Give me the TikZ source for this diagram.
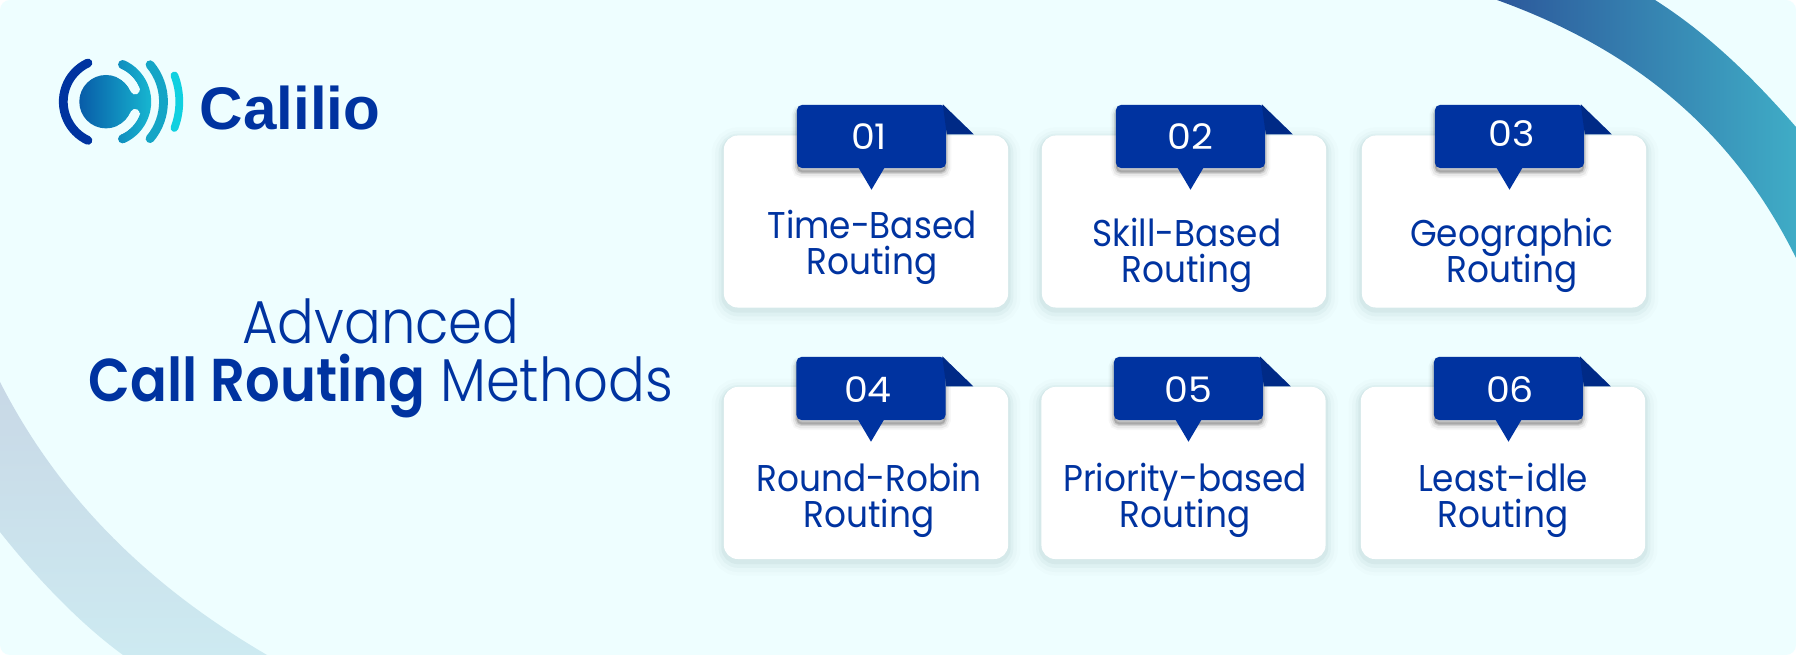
\documentclass[tikz,border=0pt]{standalone}
\usepackage{fontspec}
\setmainfont{Poppins}[UprightFont=* Light,BoldFont=* SemiBold,FakeStretch=0.9]
\newfontfamily\plainfont{Poppins}[FakeStretch=0.92]
\newfontfamily\numfont{Poppins}[FakeStretch=1.08]
\newfontfamily\brandfont{Liberation Sans}[BoldFont=* Bold]
\definecolor{pagebg}{HTML}{EEFEFF}
\definecolor{tagblue}{HTML}{0033A0}
\definecolor{tagdark}{HTML}{002A86}
\definecolor{softgrey}{HTML}{2F5F68}
\definecolor{ribbonleft}{RGB}{44,88,155}
\definecolor{ribbonright}{RGB}{63,172,198}
\definecolor{paleupper}{RGB}{200,216,230}
\definecolor{palelower}{RGB}{205,234,241}
\definecolor{logoleft}{RGB}{8,92,168}
\definecolor{logoright}{RGB}{24,190,212}
\definecolor{logothird}{RGB}{20,165,198}
\definecolor{logofourth}{RGB}{16,208,224}
\tikzset{
  cardbox/.style={fill=white,rounded corners=.14cm,minimum width=2.84cm,minimum height=1.72cm,inner sep=0pt,
    preaction={draw=softgrey,line width=7pt,opacity=.015,transform canvas={yshift=-1.2pt}},
    preaction={draw=softgrey,line width=5pt,opacity=.025,transform canvas={yshift=-1.2pt}},
    preaction={draw=softgrey,line width=3pt,opacity=.04,transform canvas={yshift=-1pt}},
    preaction={draw=softgrey,line width=1.5pt,opacity=.05,transform canvas={yshift=-.7pt}}},
  tagbox/.style={fill=tagblue,rounded corners=.05cm,minimum width=1.49cm,minimum height=.63cm,inner sep=0pt,
    preaction={draw=black,fill=black,line width=3pt,opacity=.03,transform canvas={yshift=-1.4pt}},
    preaction={draw=black,fill=black,line width=2pt,opacity=.06,transform canvas={yshift=-1.4pt}},
    preaction={draw=black,fill=black,line width=1pt,opacity=.10,transform canvas={yshift=-1.2pt}}},
  numtext/.style={text=white,font=\numfont\fontsize{10}{11}\selectfont},
  cardtext/.style={text=tagblue,align=center,font=\plainfont\fontsize{10.6}{10.2}\selectfont\lineskiplimit -6pt\relax},
  titletext/.style={text=tagblue,align=center,font=\fontsize{17.2}{16.5}\selectfont\lineskiplimit -6pt\relax},
  brandtext/.style={text=tagblue,font=\brandfont\bfseries\fontsize{17.1}{18}\selectfont},
}
\begin{document}
\begin{tikzpicture}[x=.01cm,y=.01cm]
\useasboundingbox (0,0) rectangle (1796,655);
\fill[white] (0,0) rectangle (1796,655);
\fill[pagebg,rounded corners=.1cm] (0,0) rectangle (1796,655);
% corner ribbons
\shade[left color=ribbonleft,right color=ribbonright]
  (1497,655) -- (1655,655) .. controls (1710,620) and (1755,575) .. (1796,528) -- (1796,397)
  .. controls (1740,510) and (1650,600) .. (1497,655) -- cycle;
\shade[top color=paleupper,bottom color=palelower]
  (0,273) .. controls (50,175) and (130,80) .. (267,0) -- (123,0)
  .. controls (75,35) and (30,85) .. (0,123) -- cycle;
% logo
\draw[tagblue,line width=2.5pt,line cap=round] (106,553.3) ++(115:42.7) arc (115:245:42.7);
\shade[left color=logoleft,right color=logoright]
  (106,553.3) circle (26.7)
  (106,553.3) ++(-66:40.7) circle (4.5)
  (106,553.3) ++(66:40.7) circle (4.5)
  (106,553.3) ++(-66:45.2) arc (-66:66:45.2) -- ++(246:9) arc (66:-66:36.2) -- cycle
  (126,542) -- (146,542) -- (146,564.6) -- (126,564.6) -- cycle;
\draw[pagebg,line width=2.6pt,line cap=round] (106,553.3) ++(22:31.4) arc (22:64:31.4);
\draw[pagebg,line width=2.6pt,line cap=round] (106,553.3) ++(-22:31.4) arc (-22:-64:31.4);
\draw[logothird,line width=2.5pt,line cap=round] (106,553.3) ++(-40:57.5) arc (-40:40:57.5);
\draw[logofourth,line width=2.2pt,line cap=round] (106,553.3) ++(-21:73.3) arc (-21:21:73.3);
\node[brandtext] (brand) at (290,547) {Calilio};
% title
\node[titletext] (title) at (381,297) {Advanced\\\textbf{Call Routing} Methods};
% cards
\foreach \i/\cx/\cy/\tx/\ty/\nx/\ny/\lx/\ly/\txt in {
  01/866/433.5/871.5/518.5/869/518/872/408/{Time-Based\\Routing},
  02/1184/433.5/1190.5/518.5/1190/518/1187/400/{Skill-Based\\Routing},
  03/1504/433.5/1509.5/518.5/1512/521/1512/400/{Geographic\\Routing},
  04/866/182/871/266.5/868/265/869/155/{Round-Robin\\Routing},
  05/1183.5/182/1188.5/266.5/1188/265/1185/155/{Priority-based\\Routing},
  06/1503/182/1508.5/266.5/1510/265/1503/155/{Least-idle\\Routing}}{
  \node[cardbox] (card\i) at (\cx,\cy) {};
  \node[cardtext] (lab\i) at (\lx,\ly) {\txt};
  \node[tagbox] (tag\i) at (\tx,\ty) {};
  \fill[tagdark] (tag\i.north east) ++(-4,0) -- ++(31,-30) -- ++(-27,0) -- cycle;
  \fill[tagblue] (tag\i.south) ++(-13,1) -- ++(26,0) -- ++(-13,-22) -- cycle;
  \node[numtext] (num\i) at (\nx,\ny) {\i};
}
\end{tikzpicture}
\end{document}
